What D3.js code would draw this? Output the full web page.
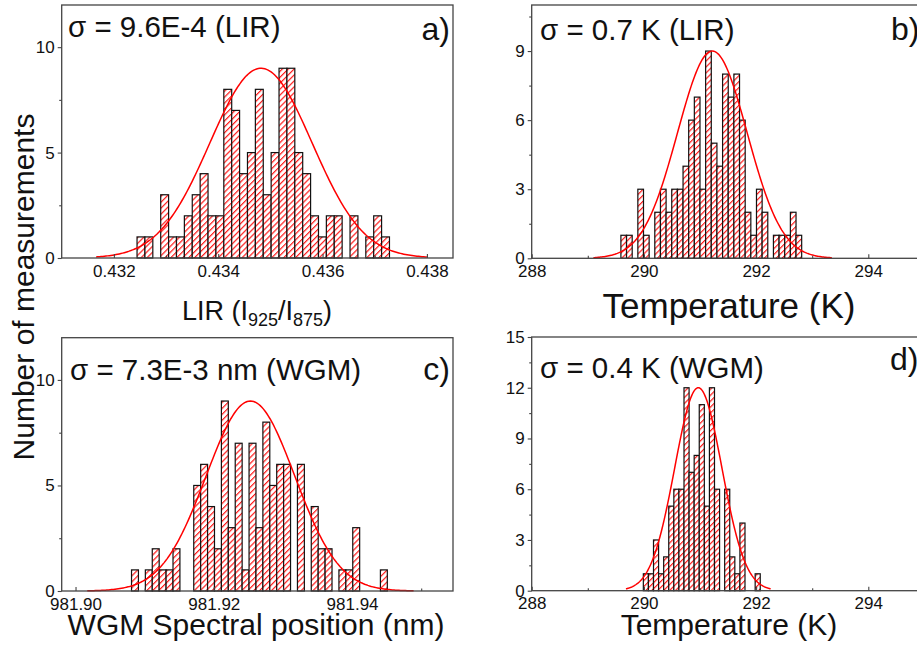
<!DOCTYPE html>
<html><head><meta charset="utf-8">
<script src="https://cdn.jsdelivr.net/npm/d3@7"></script>
<style>body{margin:0;background:#fff}svg{display:block;font-family:"Liberation Sans",Arial,sans-serif}</style>
</head><body>
<script>
// ---------- data ----------
// histogram counts (one value per bin), with bin start and width
const countsA = [1,1,0,3,1,1,2,3,4,2,2,8,7,4,5,8,3,5,9,9,5,4,2,1,2,2,0,2,0,1,2,1];
const binA = [0.432444, 0.0001512];
const countsB = [1,1,0,3,1,0,2,3,2,3,3,4,6,7,3,9,5,4,8,7,8,6,2,1,3,2,0,1,1,1,2,1];
const binB = [289.59, 0.1007];
const countsC = [1,0,1,2,1,1,2,0,0,5,6,4,2,9,3,7,1,7,3,8,5,6,6,0,6,0,4,2,2,0,1,1,3,0,0,0,1];
const binC = [981.9081, 0.001];
const countsD = [1,1,3,1,2,5,6,6,12,7,8,11,5,12,6,0,6,2,1,4,0,0,1];
const binD = [289.99, 0.0906];
// Gaussian fits: [mean, sigma, amplitude], drawn over [from, to]
const fitA = [0.43482, 0.00098, 9], fitRangeA = [0.43166, 0.43800];
const fitB = [291.22, 0.62, 9],     fitRangeB = [289.10, 293.35];
const fitC = [981.9253, 0.0064, 9], fitRangeC = [981.9017, 981.9489];
const fitD = [290.97, 0.42, 12],    fitRangeD = [289.68, 292.26];
// axes
const xDomA = [0.431, 0.4385], xTicksA = [0.432,0.434,0.436,0.438], xMinorA = [0.433,0.435,0.437];
const xDomB = [288, 296], xTicksB = [288,290,292,294,296], xMinorB = [289,291,293,295];
const xDomC = [981.898, 981.9546], xTicksC = [981.90,981.92,981.94], xMinorC = [981.91,981.93,981.95];
const xDomD = [288, 296], xTicksD = [288,290,292,294,296], xMinorD = [289,291,293,295];
const yDomA = [0,12], yTicksA = [0,5,10], yMinorA = [2.5,7.5];
const yDomB = [0,11], yTicksB = [0,3,6,9], yMinorB = [1.5,4.5,7.5,10.5];
const yDomC = [0,12], yTicksC = [0,5,10], yMinorC = [2.5,7.5];
const yDomD = [0,15], yTicksD = [0,3,6,9,12,15], yMinorD = [1.5,4.5,7.5,10.5,13.5];
const sigmaLabels = ["σ = 9.6E-4 (LIR)", "σ = 0.7 K (LIR)", "σ = 7.3E-3 nm (WGM)", "σ = 0.4 K (WGM)"];
const panelLetters = ["a)", "b)", "c)", "d)"];
const yTitle = "Number of measurements";

// ---------- drawing ----------
const svg = d3.select("body").append("svg").attr("width", 917).attr("height", 645);
const defs = svg.append("defs");
const pat = defs.append("pattern").attr("id","hatch").attr("patternUnits","userSpaceOnUse")
  .attr("width",4.2).attr("height",10).attr("patternTransform","rotate(45)");
pat.append("rect").attr("width",4.2).attr("height",10).attr("fill","#fff");
pat.append("rect").attr("x",0).attr("width",1.2).attr("height",10).attr("fill","#ff1a1a");

const panels = [
  {L:61.7, R:453, T:5, B:258, xd:xDomA, xt:xTicksA, xm:xMinorA, yd:yDomA, yt:yTicksA, ym:yMinorA,
   counts:countsA, bin:binA, fit:fitA, fr:fitRangeA, fmt:d3.format(".3f"),
   sig:[68,37], let:[450,40,"end"]},
  {L:531.7, R:980.5, T:5, B:258.3, xd:xDomB, xt:xTicksB, xm:xMinorB, yd:yDomB, yt:yTicksB, ym:yMinorB,
   counts:countsB, bin:binB, fit:fitB, fr:fitRangeB, fmt:d3.format("d"),
   sig:[540,40], let:[891,40,"start"]},
  {L:61.7, R:453, T:337.7, B:591, xd:xDomC, xt:xTicksC, xm:xMinorC, yd:yDomC, yt:yTicksC, ym:yMinorC,
   counts:countsC, bin:binC, fit:fitC, fr:fitRangeC, fmt:d3.format(".2f"),
   sig:[70,380], let:[450,380,"end"]},
  {L:531.7, R:980.5, T:337, B:590.7, xd:xDomD, xt:xTicksD, xm:xMinorD, yd:yDomD, yt:yTicksD, ym:yMinorD,
   counts:countsD, bin:binD, fit:fitD, fr:fitRangeD, fmt:d3.format("d"),
   sig:[540,378], let:[890,370,"start"]}
];

panels.forEach((p, i) => {
  const x = d3.scaleLinear().domain(p.xd).range([p.L, p.R]);
  const y = d3.scaleLinear().domain(p.yd).range([p.B, p.T]);
  const g = svg.append("g");

  // bars (keep bin index with each count)
  const bars = p.counts.map((c, k) => ({c, x0: p.bin[0] + k*p.bin[1], x1: p.bin[0] + (k+1)*p.bin[1]}))
    .filter(d => d.c > 0);
  g.selectAll("rect.bar").data(bars).join("rect").attr("class","bar")
    .attr("x", d => x(d.x0))
    .attr("width", d => x(d.x1) - x(d.x0))
    .attr("y", d => y(d.c)).attr("height", d => y(0) - y(d.c))
    .attr("fill","url(#hatch)").attr("stroke","#111").attr("stroke-width",1.2);

  // gaussian fit
  const [mu, s, A] = p.fit;
  const pts = d3.range(0, 201).map(k => {
    const xv = p.fr[0] + (p.fr[1]-p.fr[0])*k/200;
    return [xv, A*Math.exp(-0.5*((xv-mu)/s)**2)];
  });
  g.append("path").datum(pts)
    .attr("d", d3.line().x(d => x(d[0])).y(d => y(d[1])))
    .attr("fill","none").attr("stroke","#ff0000").attr("stroke-width",1.5);

  // frame
  g.append("rect").attr("x",p.L).attr("y",p.T).attr("width",p.R-p.L).attr("height",p.B-p.T)
    .attr("fill","none").attr("stroke","#444").attr("stroke-width",1.3);

  // x axis
  const xa = g.append("g").attr("transform",`translate(0,${p.B})`)
    .call(d3.axisBottom(x).tickValues(p.xt).tickFormat(p.fmt).tickSize(-4).tickPadding(6.5));
  const xm = g.append("g").attr("transform",`translate(0,${p.B})`)
    .call(d3.axisBottom(x).tickValues(p.xm).tickSize(-2.5));
  // y axis
  const ya = g.append("g").attr("transform",`translate(${p.L},0)`)
    .call(d3.axisLeft(y).tickValues(p.yt).tickSize(4).tickPadding(3));
  const ym = g.append("g").attr("transform",`translate(${p.L},0)`)
    .call(d3.axisLeft(y).tickValues(p.ym).tickSize(2.5));
  [xm, ym].forEach(a => a.selectAll("text").remove());
  [xa,xm,ya,ym].forEach(a => {
    a.select(".domain").remove();
    a.selectAll("line").attr("stroke","#444").attr("stroke-width",1.1);
    a.selectAll("text").attr("font-size",17).attr("fill","#111")
      .attr("font-family","'Liberation Sans',Arial,sans-serif");
  });

  // labels
  svg.append("text").attr("x",p.sig[0]).attr("y",p.sig[1]).attr("font-size",29.5)
    .attr("fill","#111").text(sigmaLabels[i]);
  svg.append("text").attr("x",p.let[0]).attr("y",p.let[1]).attr("text-anchor",p.let[2])
    .attr("font-size",32).attr("fill","#111").text(panelLetters[i]);
});

// axis titles
svg.append("text").attr("transform","translate(34,287) rotate(-90)").attr("text-anchor","middle")
  .attr("font-size",30).attr("fill","#111").text(yTitle);

const ta = svg.append("text").attr("x",257).attr("y",320).attr("text-anchor","middle")
  .attr("font-size",27).attr("fill","#111");
ta.append("tspan").text("LIR (I");
ta.append("tspan").attr("font-size",18).attr("dy",6).text("925");
ta.append("tspan").attr("dy",-6).text("/I");
ta.append("tspan").attr("font-size",18).attr("dy",6).text("875");
ta.append("tspan").attr("dy",-6).text(")");

svg.append("text").attr("x",729).attr("y",318).attr("text-anchor","middle")
  .attr("font-size",35).attr("fill","#111").text("Temperature (K)");
svg.append("text").attr("x",256).attr("y",635).attr("text-anchor","middle")
  .attr("font-size",30).attr("fill","#111").text("WGM Spectral position (nm)");
svg.append("text").attr("x",729).attr("y",635).attr("text-anchor","middle")
  .attr("font-size",30).attr("fill","#111").text("Temperature (K)");
</script>
</body></html>
